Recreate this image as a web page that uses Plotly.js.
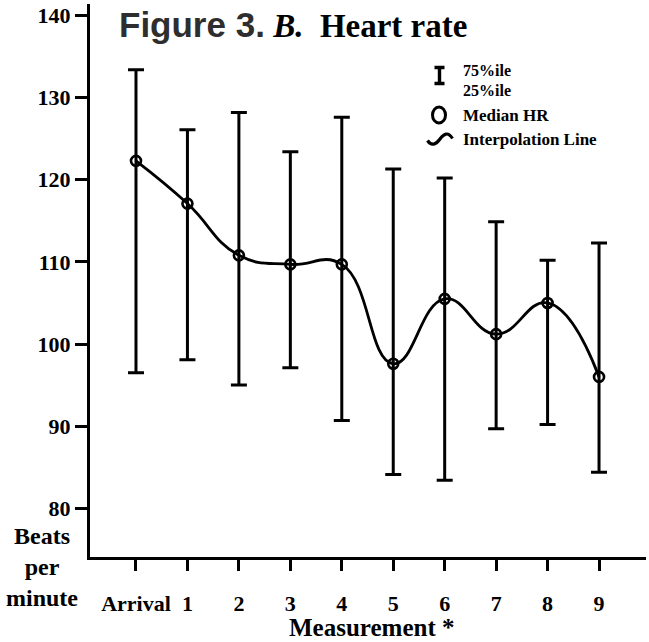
<!DOCTYPE html>
<html>
<head>
<meta charset="utf-8">
<script src="https://cdn.plot.ly/plotly-3.0.1.min.js"></script>
<style>html,body{margin:0;padding:0;background:#fff;}#chart{width:649px;height:642px;}</style>
</head>
<body>
<div id="chart"></div>
<script>
// ---- data ----
const categories = ['Arrival', '1', '2', '3', '4', '5', '6', '7', '8', '9'];
const medianHR   = [122.3, 117.1, 110.8, 109.7, 109.7, 97.6, 105.5, 101.2, 105.0, 96.0];
const p75        = [133.4, 126.1, 128.2, 123.4, 127.6, 121.3, 120.2, 114.9, 110.2, 112.3];
const p25        = [96.5, 98.1, 95.0, 97.1, 90.7, 84.1, 83.4, 89.7, 90.2, 84.4];
const yTickVals  = [80, 90, 100, 110, 120, 130, 140];
const legendLabels = ['75%ile', '25%ile', 'Median HR', 'Interpolation Line'];

// ---- layout helpers (pixel -> paper) ----
const W = 649, H = 642;
const M = {l: 90, r: 3, t: 4, b: 85};
const PL = M.l, PR = W - M.r, PT = M.t, PB = H - M.b;
const px = x => (x - PL) / (PR - PL);
const py = y => (PB - y) / (PB - PT);

const serif = 'Liberation Serif, Times New Roman, serif';

const trace = {
  type: 'scatter',
  mode: 'lines+markers',
  x: categories,
  y: medianHR,
  line: {color: '#000', width: 2.8, shape: 'spline', smoothing: 1.3},
  marker: {symbol: 'circle-open', size: 10, color: '#000', line: {color: '#000', width: 2.6}},
  error_y: {
    type: 'data',
    symmetric: false,
    array: p75.map((v, i) => v - medianHR[i]),
    arrayminus: p25.map((v, i) => medianHR[i] - v),
    color: '#000',
    thickness: 3,
    width: 8
  },
  hoverinfo: 'skip',
  showlegend: false
};

const shapes = [
  // legend: error bar glyph
  {type: 'path', xref: 'paper', yref: 'paper',
   path: `M ${px(434.5)},${py(67.5)} L ${px(444.5)},${py(67.5)} M ${px(439.5)},${py(67.5)} L ${px(439.5)},${py(83.5)} M ${px(434.5)},${py(83.5)} L ${px(444.5)},${py(83.5)}`,
   line: {color: '#000', width: 3.4}},
  // legend: circle glyph
  {type: 'circle', xref: 'paper', yref: 'paper',
   x0: px(432.5), x1: px(445.5), y0: py(107), y1: py(123),
   line: {color: '#000', width: 3}},
  // legend: wave glyph
  {type: 'path', xref: 'paper', yref: 'paper',
   path: `M ${px(427.5)},${py(140.5)} C ${px(431.5)},${py(146.5)} ${px(436)},${py(144.5)} ${px(440)},${py(139)} C ${px(444)},${py(133.5)} ${px(448)},${py(131.5)} ${px(452.5)},${py(138.5)}`,
   line: {color: '#000', width: 3.2}}
];

const legFont = {family: serif, size: 17, color: '#000', weight: 'bold'};
const pctFont = {family: serif, size: 16, color: '#000', weight: 'bold'};
const NB = '\u00A0';

const annotations = [
  {xref: 'paper', yref: 'paper', x: px(117), y: py(25), xanchor: 'left', yanchor: 'middle', showarrow: false,
   text: '<span style="font-family:Liberation Sans, Arial, sans-serif;color:#2e2e2e;font-size:35px">Figure 3.</span>' + NB + '<i>B.</i>' + NB + NB + 'Heart rate',
   font: {family: serif, size: 33, color: '#000', weight: 'bold'}},
  {xref: 'paper', yref: 'paper', x: px(461), y: py(70.5), xanchor: 'left', yanchor: 'middle', showarrow: false,
   text: legendLabels[0], font: pctFont},
  {xref: 'paper', yref: 'paper', x: px(461), y: py(90), xanchor: 'left', yanchor: 'middle', showarrow: false,
   text: legendLabels[1], font: pctFont},
  {xref: 'paper', yref: 'paper', x: px(461), y: py(115.5), xanchor: 'left', yanchor: 'middle', showarrow: false,
   text: legendLabels[2], font: legFont},
  {xref: 'paper', yref: 'paper', x: px(461), y: py(139.5), xanchor: 'left', yanchor: 'middle', showarrow: false,
   text: legendLabels[3], font: legFont},
  // y-axis label
  {xref: 'paper', yref: 'paper', x: px(42), y: py(567), xanchor: 'center', yanchor: 'middle', showarrow: false, align: 'center',
   text: 'Beats<br>per<br>minute', font: {family: serif, size: 24, color: '#000', weight: 'bold'}},
  // x-axis label
  {xref: 'paper', yref: 'paper', x: px(371), y: py(627), xanchor: 'center', yanchor: 'middle', showarrow: false,
   text: 'Measurement *', font: {family: serif, size: 25, color: '#000', weight: 'bold'}}
];

const layout = {
  width: W, height: H,
  margin: M,
  paper_bgcolor: '#fff', plot_bgcolor: '#fff',
  showlegend: false,
  xaxis: {
    type: 'category',
    range: [-0.894, 9.913],
    showgrid: false, zeroline: false,
    showline: true, linecolor: '#000', linewidth: 3,
    ticks: 'outside', ticklen: 11, tickwidth: 3, tickcolor: '#000',
    tickfont: {family: serif, size: 22, color: '#000', weight: 'bold'},
    ticklabelstandoff: 14,
    fixedrange: true
  },
  yaxis: {
    range: [74.07, 141.4],
    tickvals: yTickVals,
    ticktext: yTickVals.map(String),
    showgrid: false, zeroline: false,
    showline: true, linecolor: '#000', linewidth: 3,
    ticks: 'outside', ticklen: 12, tickwidth: 3, tickcolor: '#000',
    tickfont: {family: serif, size: 22, color: '#000', weight: 'bold'},
    fixedrange: true
  },
  shapes: shapes,
  annotations: annotations
};

Plotly.newPlot('chart', [trace], layout, {displayModeBar: false, staticPlot: true});
</script>
</body>
</html>
